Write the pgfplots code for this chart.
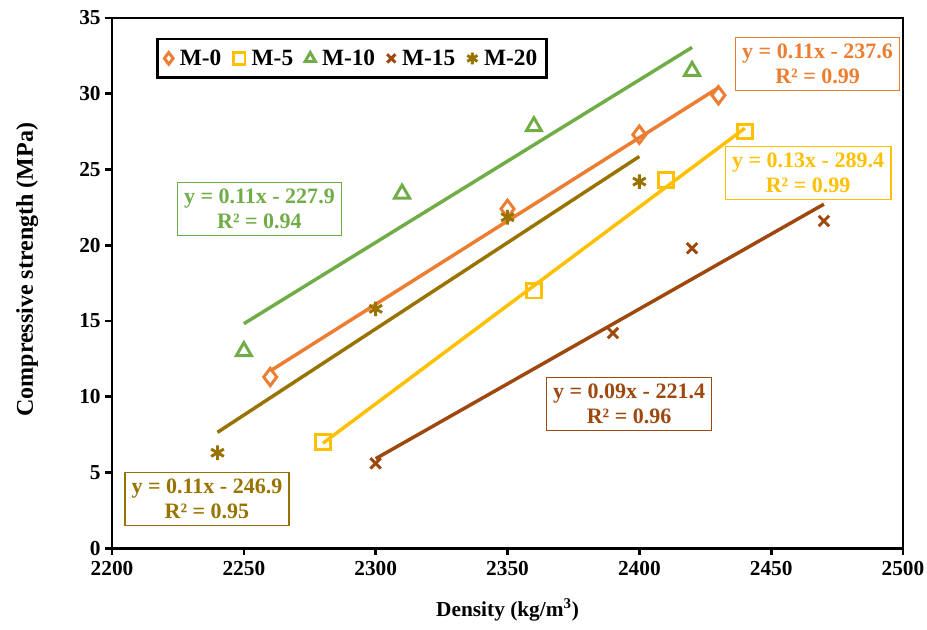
\documentclass[border=0pt]{standalone}
\usepackage{fontspec}
\setmainfont{Liberation Serif}
\usepackage{pgfplots}
\pgfplotsset{compat=1.18}
\usetikzlibrary{calc}
\definecolor{cO}{HTML}{ED7D31}
\definecolor{cY}{HTML}{FFC000}
\definecolor{cG}{HTML}{70AD47}
\definecolor{cB}{HTML}{9E480E}
\definecolor{cL}{HTML}{997300}
\begin{document}
\begin{tikzpicture}
\begin{axis}[
  scale only axis, width=593pt, height=397.5pt,
  xmin=2200, xmax=2500, ymin=0, ymax=35,
  xtick={2200,2250,...,2500}, ytick={0,5,...,35},
  tick align=outside, xtick pos=bottom, ytick pos=left,
  axis line style={line width=2pt},
  major tick length=5pt,
  every tick/.style={line width=2pt, black},
  ticklabel style={font=\bfseries\fontsize{16}{18}\selectfont},
  xticklabel style={yshift=-1.5pt},
  /pgf/number format/assume math mode=true,
  /pgf/number format/1000 sep={},
  xlabel={Density (kg/m\textsuperscript{3})},
  ylabel={Compressive strength (MPa)},
  xlabel style={font=\bfseries\fontsize{16}{18}\selectfont, yshift=-10pt},
  ylabel style={font=\bfseries\fontsize{18}{20}\selectfont, yshift=24pt, xshift=10pt},
  legend columns=5,
  legend style={at={(rel axis cs:0.056,0.963)}, anchor=north west,
    draw=black, line width=2pt, font=\bfseries\fontsize{17.5}{20}\selectfont,
    inner xsep=5pt, inner ysep=6pt,
    /tikz/every even column/.append style={column sep=7pt},
    /tikz/every odd column/.append style={column sep=3pt}},
  legend image post style={mark size=4.4pt, line width=1.9pt},
  legend cell align=left,
]
\coordinate (sw) at (rel axis cs:0,0);
\coordinate (ne) at (rel axis cs:1,1);
% trend lines
\addplot[cO, line width=2.6pt, forget plot] coordinates {(2260,11.7) (2430,30.4)};
\addplot[cY, line width=2.6pt, forget plot] coordinates {(2280,6.93) (2440,27.72)};
\addplot[cG, line width=2.6pt, forget plot] coordinates {(2250,14.82) (2420,33.06)};
\addplot[cB, line width=2.6pt, forget plot] coordinates {(2300,5.91) (2470,22.71)};
\addplot[cL, line width=2.6pt, forget plot] coordinates {(2240,7.65) (2400,25.86)};
% data
\addplot[only marks, mark=diamond, mark size=6.5pt, cO, mark options={line width=2.2pt, fill=white}] coordinates {(2260,11.3) (2350,22.4) (2400,27.3) (2430,29.9)};
\addlegendentry{M-0}
\addplot[only marks, mark=square, mark size=5.5pt, cY, mark options={line width=2.2pt, fill=white}] coordinates {(2280,7.0) (2360,17.0) (2410,24.3) (2440,27.5)};
\addlegendentry{M-5}
\addplot[only marks, mark=triangle, mark size=6.5pt, cG, mark options={line width=2.2pt, fill=white}] coordinates {(2250,13.0) (2310,23.4) (2360,27.85) (2420,31.5)};
\addlegendentry{M-10}
\addplot[only marks, mark=x, mark size=5.5pt, cB, mark options={line width=2.2pt}] coordinates {(2300,5.6) (2390,14.2) (2420,19.8) (2470,21.6)};
\addlegendentry{M-15}
\addplot[only marks, mark=asterisk, mark size=5.5pt, cL, mark options={line width=2.2pt}] coordinates {(2240,6.3) (2300,15.8) (2350,21.85) (2400,24.2)};
\addlegendentry{M-20}
% equation boxes
\tikzset{eq/.style={draw=#1, text=#1, line width=1.2pt, fill=white, align=center,
  font=\bfseries\fontsize{16.5}{18.5}\selectfont, inner xsep=5pt, inner ysep=5pt}}
\node[eq=cO] at (axis cs:2467.6,31.97) {y = 0.11x - 237.6\\R² = 0.99};
\node[eq=cY] at (axis cs:2464,24.77) {y = 0.13x - 289.4\\R² = 0.99};
\node[eq=cG] at (axis cs:2255.9,22.39) {y = 0.11x - 227.9\\R² = 0.94};
\node[eq=cL] at (axis cs:2236,3.24) {y = 0.11x - 246.9\\R² = 0.95};
\node[eq=cB] at (axis cs:2396.1,9.53) {y = 0.09x - 221.4\\R² = 0.96};
\end{axis}
\pgfresetboundingbox
\path[use as bounding box] ($(sw)+(-84pt,-60.75pt)$) rectangle ($(ne)+(18pt,13.5pt)$);
\end{tikzpicture}
\end{document}
